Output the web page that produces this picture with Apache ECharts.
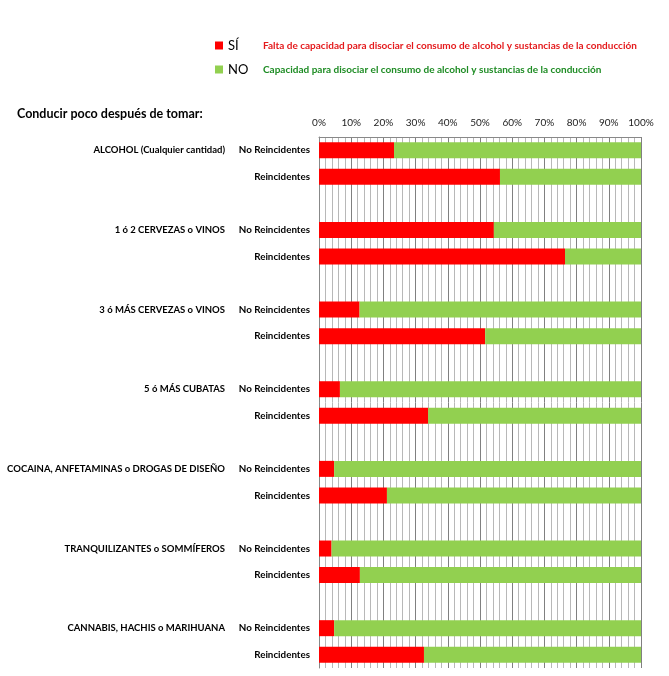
<!DOCTYPE html>
<html lang="es">
<head>
<meta charset="utf-8" />
<title>Conducir poco después de tomar</title>
<script src="https://cdn.jsdelivr.net/npm/echarts@6/dist/echarts.min.js"></script>
<style>
  html, body { margin: 0; padding: 0; background: #fff; }
  #chart { width: 669px; height: 676px; }
</style>
</head>
<body>
<div id="chart"></div>
<script>
// grupos de consumo (uno por bloque)
var groups = [
  'ALCOHOL (Cualquier cantidad)',
  '1 ó 2 CERVEZAS o VINOS',
  '3 ó MÁS CERVEZAS o VINOS',
  '5 ó MÁS CUBATAS',
  'COCAINA, ANFETAMINAS o DROGAS DE DISEÑO',
  'TRANQUILIZANTES o SOMMÍFEROS',
  'CANNABIS, HACHIS o MARIHUANA'
];
var subRows = ['No Reincidentes', 'Reincidentes'];

// % "SÍ" (falta de capacidad)
var siNoReinc = [23.3, 54.3, 12.6, 6.5, 4.7, 3.9, 4.7];
var siReinc   = [56.2, 76.4, 51.6, 33.9, 21.1, 12.7, 32.6];
// % "NO" (capacidad)
var noNoReinc = [76.7, 45.7, 87.4, 93.5, 95.3, 96.1, 95.3];
var noReinc   = [43.8, 23.6, 48.4, 66.1, 78.9, 87.3, 67.4];

var legendNames = ['SÍ', 'NO'];
var legendTexts = [
  'Falta de capacidad para disociar el consumo de alcohol y sustancias de la conducción',
  'Capacidad para disociar el consumo de alcohol y sustancias de la conducción'
];
var chartTitle = 'Conducir poco después de tomar:';

// filas del eje: No Reinc, Reinc, hueco
var cats = [], siData = [], noData = [], groupOfRow = [];
for (var i = 0; i < groups.length; i++) {
  cats.push(subRows[0]); siData.push(siNoReinc[i]); noData.push(noNoReinc[i]); groupOfRow.push(i);
  cats.push(subRows[1]); siData.push(siReinc[i]); noData.push(noReinc[i]); groupOfRow.push(-1);
  if (i < groups.length - 1) {
    cats.push(''); siData.push('-'); noData.push('-'); groupOfRow.push(-1);
  }
}

var chart = echarts.init(document.getElementById('chart'));
var font = 'Lato, "Open Sans", sans-serif';

chart.setOption({
  animation: false,
  textStyle: { fontFamily: font },
  title: {
    text: chartTitle,
    left: 12, top: 102,
    textStyle: { fontSize: 12.5, fontWeight: 'bold', color: '#000', fontFamily: font }
  },
  legend: {
    data: legendNames,
    orient: 'vertical',
    left: 210, top: 34,
    itemGap: 11,
    itemWidth: 8, itemHeight: 8,
    icon: 'rect',
    selectedMode: false,
    formatter: function (name) {
      var k = legendNames.indexOf(name);
      return '{n|' + name + '}' + (k === 0 ? '{dr|' : '{dg|') + legendTexts[k] + '}';
    },
    textStyle: {
      rich: {
        n: { fontSize: 13, color: '#000', width: 35, fontFamily: font },
        dr: { fontSize: 10, fontWeight: 'bold', color: '#e41a1c', fontFamily: font },
        dg: { fontSize: 10, fontWeight: 'bold', color: '#1e8c24', fontFamily: font }
      }
    }
  },
  grid: { left: 319, right: 28, top: 137, bottom: 8, containLabel: false },
  xAxis: {
    type: 'value',
    position: 'top',
    min: 0, max: 100, interval: 10,
    axisLine: { show: true, lineStyle: { color: '#888', width: 1 } },
    axisTick: { show: false },
    axisLabel: { formatter: '{value}%', fontSize: 10, color: '#222', margin: 9, fontFamily: font },
    splitLine: { show: true, lineStyle: { color: '#808080', width: 1 } },
    minorTick: { show: false, splitNumber: 5 },
    minorSplitLine: { show: true, lineStyle: { color: '#b8b8b8', width: 1 } }
  },
  yAxis: {
    type: 'category',
    inverse: true,
    data: cats,
    axisLine: { show: true, lineStyle: { color: '#888' } },
    axisTick: { show: false },
    axisLabel: {
      interval: 0,
      margin: 9,
      formatter: function (value, idx) {
        var g = groupOfRow[idx];
        if (g >= 0) return '{g|' + groups[g] + '}{s|' + value + '}';
        return '{s|' + value + '}';
      },
      rich: {
        g: { fontSize: 9.5, fontWeight: 'bold', color: '#000', fontFamily: font },
        s: { fontSize: 9.8, fontWeight: 'bold', color: '#000', width: 85, align: 'right', fontFamily: font }
      }
    }
  },
  series: [
    {
      name: legendNames[0], type: 'bar', stack: 'total',
      data: siData, barWidth: 16,
      itemStyle: { color: '#ff0000' }
    },
    {
      name: legendNames[1], type: 'bar', stack: 'total',
      data: noData, barWidth: 16,
      itemStyle: { color: '#92d050' }
    }
  ]
});

window.onresize = function () { chart.resize(); };
</script>
</body>
</html>
